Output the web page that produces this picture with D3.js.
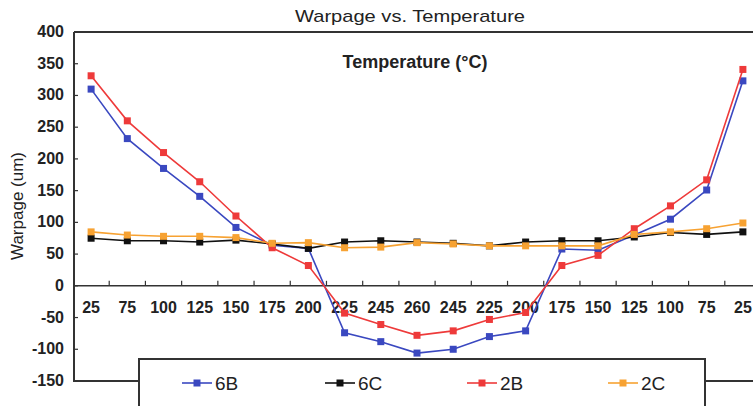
<!DOCTYPE html>
<html>
<head>
<meta charset="utf-8">
<script src="https://cdn.jsdelivr.net/npm/d3@7"></script>
<style>
  body { margin: 0; background: #fff; }
  svg { display: block; }
  .tick-label { font-family: "Liberation Sans Narrow", "Arial Narrow", "Liberation Sans", Arial, sans-serif; font-weight: bold; fill: #222; }
</style>
</head>
<body>
<div id="chart"></div>
<script>
const temps = ["25", "75", "100", "125", "150", "175", "200", "225", "245", "260",
  "245", "225", "200", "175", "150", "125", "100", "75", "25"];
const yTicks = [-150, -100, -50, 0, 50, 100, 150, 200, 250, 300, 350, 400];

const s6B = [310, 232, 185, 141, 92, 64, 59, -74, -88, -106, -100, -80, -71, 58, 56, 80, 105, 151, 323];
const s6C = [75, 71, 71, 69, 72, 66, 59, 69, 71, 69, 67, 63, 69, 71, 71, 77, 84, 81, 85];
const s2B = [331, 260, 210, 164, 110, 60, 32, -43, -61, -78, -71, -53, -42, 32, 48, 90, 126, 167, 341];
const s2C = [85, 80, 78, 78, 76, 67, 68, 60, 61, 68, 66, 63, 63, 63, 63, 81, 85, 90, 99];

const seriesNames = ["6B", "6C", "2B", "2C"];
const seriesColors = ["#3a48c0", "#111111", "#ee3a3a", "#f7a232"];
const seriesValues = [s6B, s6C, s2B, s2C];

const width = 753, height = 406;
const plotLeft = 74, plotTop = 32, plotBottom = 381;

const svg = d3.select("#chart").append("svg")
  .attr("width", width).attr("height", height);

const x = d3.scaleBand().domain(d3.range(temps.length)).range([73, 761]);
const y = d3.scaleLinear().domain([-150, 400]).range([plotBottom, plotTop]);
const cx = (i) => x(i) + x.bandwidth() / 2;

// title
svg.append("text")
  .attr("x", 410).attr("y", 22)
  .attr("text-anchor", "middle")
  .attr("textLength", 230).attr("lengthAdjust", "spacingAndGlyphs")
  .style("font-family", "Liberation Sans, Arial, sans-serif")
  .style("font-size", "17px")
  .style("fill", "#222")
  .text("Warpage vs. Temperature");

// frame
const frame = svg.append("g").attr("stroke", "#333").attr("stroke-width", 2).attr("fill", "none");
frame.append("line").attr("x1", plotLeft).attr("x2", width).attr("y1", plotTop).attr("y2", plotTop);
frame.append("line").attr("x1", plotLeft).attr("x2", plotLeft).attr("y1", plotTop).attr("y2", plotBottom);
frame.append("line").attr("x1", plotLeft - 1).attr("x2", 140).attr("y1", plotBottom).attr("y2", plotBottom);
frame.append("line").attr("x1", 704).attr("x2", width).attr("y1", plotBottom).attr("y2", plotBottom);

// y axis labels + inner ticks
const yAxis = svg.append("g");
yTicks.forEach((v) => {
  yAxis.append("text")
    .attr("class", "tick-label")
    .attr("x", 64).attr("y", y(v) + 5)
    .attr("text-anchor", "end")
    .style("font-size", "16px")
    .text(v);
  yAxis.append("line")
    .attr("x1", plotLeft).attr("x2", plotLeft + 4)
    .attr("y1", y(v)).attr("y2", y(v))
    .attr("stroke", "#333").attr("stroke-width", 1.2);
});

// y title
svg.append("text")
  .attr("transform", `translate(23,206) rotate(-90)`)
  .attr("text-anchor", "middle")
  .style("font-family", "Liberation Sans, Arial, sans-serif")
  .style("font-size", "17px")
  .style("fill", "#222")
  .text("Warpage (um)");

// zero line with ticks pointing up
const y0 = y(0);
svg.append("line")
  .attr("x1", plotLeft).attr("x2", width)
  .attr("y1", y0).attr("y2", y0)
  .attr("stroke", "#333").attr("stroke-width", 1.6);
d3.range(1, temps.length + 1).forEach((i) => {
  const tx = 73 + i * x.bandwidth();
  if (tx > width) return;
  svg.append("line")
    .attr("x1", tx).attr("x2", tx)
    .attr("y1", y0).attr("y2", y0 - 5)
    .attr("stroke", "#333").attr("stroke-width", 1.2);
});
temps.forEach((t, i) => {
  svg.append("text")
    .attr("class", "tick-label")
    .attr("x", cx(i)).attr("y", y0 + 27)
    .attr("text-anchor", "middle")
    .style("font-size", "16px")
    .text(t);
});

// inner label
svg.append("text")
  .attr("class", "tick-label")
  .attr("x", 415).attr("y", 68)
  .attr("text-anchor", "middle")
  .style("font-size", "18px")
  .text("Temperature (\u00B0C)");

// series
const line = d3.line().x((d, i) => cx(i)).y((d) => y(d));
seriesValues.forEach((vals, k) => {
  const g = svg.append("g");
  g.append("path")
    .datum(vals)
    .attr("d", line)
    .attr("fill", "none")
    .attr("stroke", seriesColors[k])
    .attr("stroke-width", 1.6);
  g.selectAll("rect")
    .data(vals)
    .join("rect")
    .attr("x", (d, i) => cx(i) - 3.5)
    .attr("y", (d) => y(d) - 3.5)
    .attr("width", 7).attr("height", 7)
    .attr("fill", seriesColors[k]);
});

// legend
const legend = svg.append("g");
legend.append("rect")
  .attr("x", 139).attr("y", 359)
  .attr("width", 566).attr("height", 60)
  .attr("fill", "#fff").attr("stroke", "#333").attr("stroke-width", 2);
const legendX = [182, 325, 467, 608];
seriesNames.forEach((name, k) => {
  const lx = legendX[k];
  legend.append("line")
    .attr("x1", lx).attr("x2", lx + 30)
    .attr("y1", 383).attr("y2", 383)
    .attr("stroke", seriesColors[k]).attr("stroke-width", 1.6);
  legend.append("rect")
    .attr("x", lx + 15 - 3.5).attr("y", 383 - 3.5)
    .attr("width", 7).attr("height", 7)
    .attr("fill", seriesColors[k]);
  legend.append("text")
    .attr("x", lx + 33).attr("y", 390)
    .style("font-family", "Liberation Sans Narrow, Arial Narrow, Liberation Sans, sans-serif")
    .style("font-size", "19px")
    .style("fill", "#222")
    .text(name);
});
</script>
</body>
</html>
